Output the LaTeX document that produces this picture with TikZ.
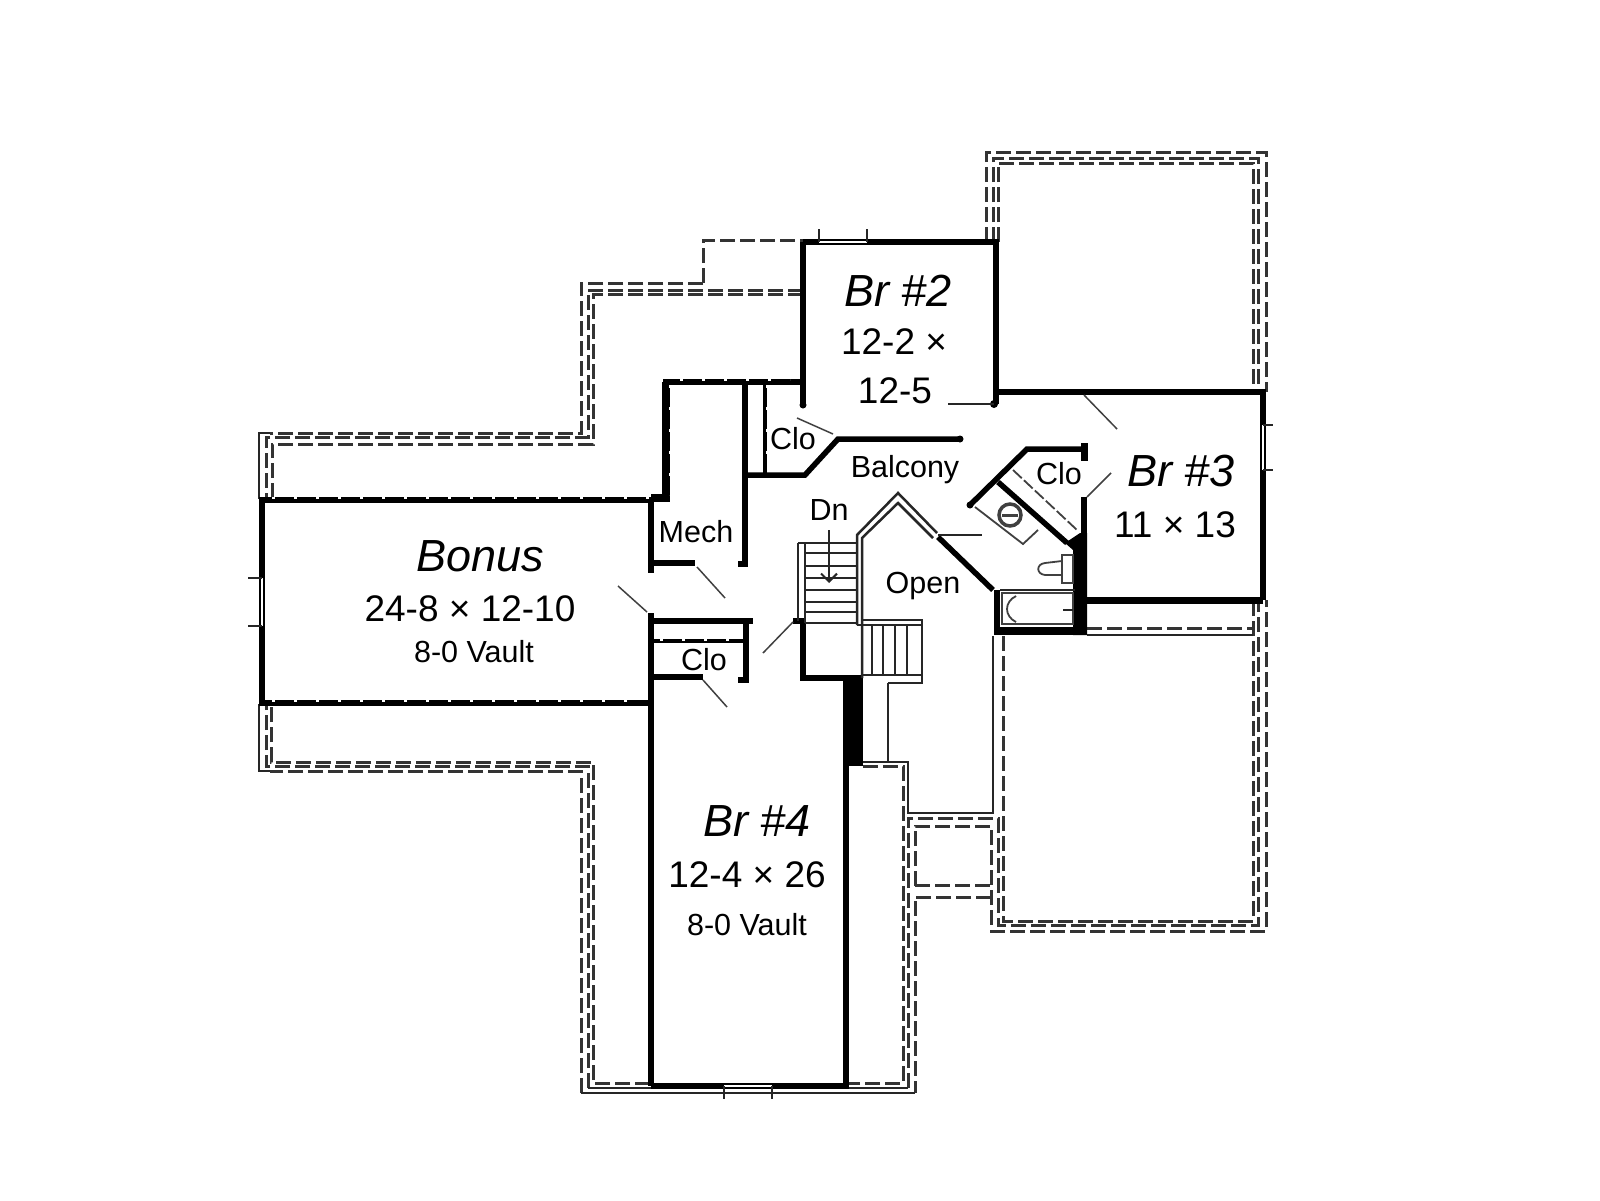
\documentclass[tikz,border=0pt]{standalone}
\usepackage{fontspec}
\setmainfont{Liberation Sans}
\usepackage{tikz}
\usetikzlibrary{
    arrows.meta            % Open tip on the stair arrow
}
\tikzset{wallline/.style={line width=5.5pt, black, line join=miter}}
\tikzset{notchline/.style={line width=2pt, white, dash pattern=on 3pt off 19pt}}
\tikzset{dashline/.style={line width=3pt, black!80, dash pattern=on 15pt off 5pt}}
\tikzset{solidline/.style={line width=2.5pt, black!85}}
\tikzset{swingline/.style={line width=1.5pt, black!75}}
\tikzset{fixtureline/.style={line width=1.8pt, black!75}}
\tikzset{windowgap/.style={line width=2.2pt, white}}
\tikzset{roomname/.style={font=\fontsize{45}{54}\selectfont\itshape, text=black}}
\tikzset{roomsize/.style={font=\fontsize{37}{44}\selectfont, text=black}}
\tikzset{roomnote/.style={font=\fontsize{30.5}{36}\selectfont, text=black}}

\begin{document}
\begin{tikzpicture}[x=1pt, y=-1pt]
    \useasboundingbox (0,0) rectangle (1600,1200);

    % roof lines
    \draw[dashline] (986,242) -- (986,152) -- (1266,152) -- (1266,392);
    \draw[dashline] (993,242) -- (993,158) -- (1258,158) -- (1258,392);
    \draw[dashline] (998,242) -- (998,163) -- (1253,163) -- (1253,392);
    \draw[dashline] (915,886) -- (915,826) -- (991,826) -- (991,931) -- (1266,931) -- (1266,600);
    \draw[dashline] (908,1088) -- (908,818) -- (998,818) -- (998,925) -- (1258,925) -- (1258,600);
    \draw[dashline] (1003,636) -- (1003,921) -- (1253,921) -- (1253,600);
    \draw[dashline] (915,885) -- (991,885);
    \draw[dashline] (991,897) -- (915,897) -- (915,1093);
    \draw[dashline] (863,766) -- (903,766) -- (903,1083) -- (848,1083);
    \draw[dashline] (650,1083) -- (593,1083) -- (593,762) -- (271,762) -- (271,704);
    \draw[dashline] (588,1088) -- (588,766) -- (266,766) -- (266,704);
    \draw[dashline] (581,1093) -- (581,771) -- (270,771);
    \draw[dashline] (703,283) -- (581,283) -- (581,433) -- (270,433);
    \draw[dashline] (803,290) -- (588,290) -- (588,437) -- (266,437) -- (266,499);
    \draw[dashline] (803,294) -- (593,294) -- (593,444) -- (272,444) -- (272,499);
    \draw[dashline] (703,283) -- (703,240) -- (803,240);
    \draw[dashline] (1087,628) -- (1253,628);
    \draw[solidline] (1087,635) -- (1253,635);
    \draw[solidline] (259,704) -- (259,771) -- (270,771);
    \draw[solidline] (259,499) -- (259,433) -- (270,433);
    \draw[solidline] (581,1093) -- (915,1093);
    \draw[solidline] (588,1088) -- (908,1088);
    \draw[solidline] (863,762) -- (908,762) -- (908,813) -- (993,813) -- (993,636);
    \draw[solidline] (888,683) -- (888,762);

    % walls
    \draw[wallline] (651,500) -- (262,500) -- (262,703) -- (651,703);
    \draw[wallline, line width=8pt] (651,498) -- (666,498) -- (666,382);
    \draw[wallline] (663,382) -- (803,382);
    \draw[wallline] (651,498) -- (651,573);
    \draw[wallline] (651,563) -- (695,563);
    \draw[wallline] (745,382) -- (745,564) -- (738,564);
    \draw[wallline, line width=4pt] (765,382) -- (765,475);
    \draw[wallline] (746,475) -- (805,475) -- (838,439) -- (960,439);
    \draw[wallline] (651,613) -- (651,1086);
    \draw[wallline] (651,621) -- (753,621);
    \draw[wallline] (651,677) -- (703,677);
    \draw[wallline] (746,621) -- (746,680) -- (738,680);
    \draw[wallline, line width=4pt] (651,641) -- (746,641);
    \draw[wallline] (651,1086) -- (846,1086) -- (846,765);
    \draw[wallline] (803,382) -- (803,405);
    \draw[wallline] (803,242) -- (803,382);
    \draw[wallline] (803,242) -- (996,242) -- (996,404);
    \draw[wallline] (996,392) -- (1263,392) -- (1263,600);
    \draw[wallline, line width=7pt] (1263,600) -- (1080,600);
    \draw[wallline] (1084,497) -- (1084,540);
    \draw[wallline] (793,621) -- (803,621) -- (803,678) -- (862,678);
    \draw[wallline] (970,505) -- (1027,449) -- (1084,449);
    \draw[wallline, line width=7pt] (1084,443) -- (1084,461);
    \draw[wallline] (998,482) -- (1067,543);
    \draw[wallline] (938,537) -- (993,590);
    \draw[wallline] (997,590) -- (997,633);
    \draw[wallline, line width=8pt] (994,631) -- (1082,631);
    \fill[black] (843,678) rectangle (863,766);
    \fill[black] (1065,543) -- (1080,533) -- (1087,533) -- (1087,635) -- (1073,635) -- (1073,550) -- cycle;
    \fill[black] (803,405) circle (3.5);
    \fill[black] (994,404) circle (4);
    \fill[black] (960,439) circle (3.5);
    \fill[black] (970,505) circle (3.5);

    % notches on the half walls
    \draw[notchline] (272,497.5) -- (662,497.5);
    \draw[notchline] (272,700.5) -- (640,700.5);
    \draw[notchline] (670,385) -- (670,495);
    \draw[notchline] (680,379.5) -- (790,379.5);
    \draw[notchline] (766.5,385) -- (766.5,470);
    \draw[notchline] (660,640) -- (740,640);

    % windows
    \draw[windowgap] (819,242) -- (867,242);
    \draw[windowgap] (724,1086) -- (772,1086);
    \draw[windowgap] (262,578) -- (262,626);
    \draw[windowgap] (1263,425) -- (1263,470);
    \draw[solidline] (819,229) -- (819,242) (867,229) -- (867,242);
    \draw[solidline] (724,1086) -- (724,1099) (772,1086) -- (772,1099);
    \draw[solidline] (248,578) -- (262,578) (248,626) -- (262,626);
    \draw[solidline] (1263,425) -- (1273,425) (1263,470) -- (1273,470);

    % door swings
    \draw[swingline] (618,586) -- (647,612);
    \draw[swingline] (697,567) -- (725,598);
    \draw[swingline] (703,680) -- (727,707);
    \draw[swingline] (793,622) -- (763,653);
    \draw[swingline] (797,418) -- (833,434);
    \draw[swingline] (1084,395) -- (1117,429);
    \draw[swingline] (1087,497) -- (1111,473);
    \draw[solidline] (948,404) -- (994,404);
    \draw[solidline] (938,535) -- (982,535);

    % open well rail
    \draw[solidline] (857,625) -- (857,535) -- (898,493) -- (937,533);
    \draw[solidline] (862,678) -- (862,538) -- (898,503) -- (933,538);

    % stairs
    \draw[solidline] (798,543) -- (798,621);
    \draw[solidline] (805,543) -- (805,623);
    \draw[solidline] (798,543) -- (857,543);
    \foreach \treadY in {553,566,578,590,602,612,623}
        \draw[solidline] (805,\treadY) -- (857,\treadY);
    \draw[solidline] (862,620) -- (922,620) -- (922,683) -- (888,683);
    \draw[solidline] (857,625) -- (922,625);
    \draw[solidline] (862,675) -- (922,675);
    \foreach \balusterX in {872,883,895,907}
        \draw[solidline] (\balusterX,625) -- (\balusterX,675);
    \draw[line width=2pt, black!85, -{Straight Barb[length=8pt,width=16pt]}] (829,530) -- (829,583);

    % bath
    \draw[fixtureline, dash pattern=on 12pt off 3pt] (1013,470) -- (1077,530);
    \draw[fixtureline] (975,507) -- (1023,544) -- (1038,530);
    \draw[fixtureline, line width=3.5pt] (1010,515) circle (11);
    \draw[fixtureline, line width=3pt] (1002,515) -- (1018,515);
    \draw[solidline] (1000,590) -- (1075,590);
    \draw[fixtureline] (1002,593) rectangle (1073,624);
    \draw[fixtureline] (1016,596) .. controls (1004,602) and (1004,616) .. (1016,622);
    \draw[solidline] (1063,610) -- (1073,610);
    \draw[fixtureline, fill=white] (1062,555) rectangle (1073,583);
    \draw[fixtureline] (1062,561) -- (1045,563) .. controls (1036,564) and (1036,574) .. (1045,575) -- (1062,575);

    % labels
    \node[roomname] (bonusname) at (480,556) {Bonus};
    \node[roomsize] (bonussize) at (470,609) {24-8 × 12-10};
    \node[roomnote] (bonusnote) at (474,652) {8-0 Vault};
    \node[roomname] (brtwoname) at (898,291) {Br \#2};
    \node[roomsize] (brtwosizea) at (894,342) {12-2 ×};
    \node[roomsize] (brtwosizeb) at (895,391) {12-5};
    \node[roomname] (brthreename) at (1181,471) {Br \#3};
    \node[roomsize] (brthreesize) at (1175,525) {11 × 13};
    \node[roomname] (brfourname) at (757,821) {Br \#4};
    \node[roomsize] (brfoursize) at (747,875) {12-4 × 26};
    \node[roomnote] (brfournote) at (747,925) {8-0 Vault};
    \node[roomnote] (clotop) at (793,439) {Clo};
    \node[roomnote] (clobath) at (1059,474) {Clo};
    \node[roomnote] (clolow) at (704,660) {Clo};
    \node[roomnote] (mech) at (696,532) {Mech};
    \node[roomnote] (down) at (829,510) {Dn};
    \node[roomnote] (balcony) at (905,470) {Balcony};
    \node[roomnote] (openwell) at (923,586) {Open};
\end{tikzpicture}
\end{document}
